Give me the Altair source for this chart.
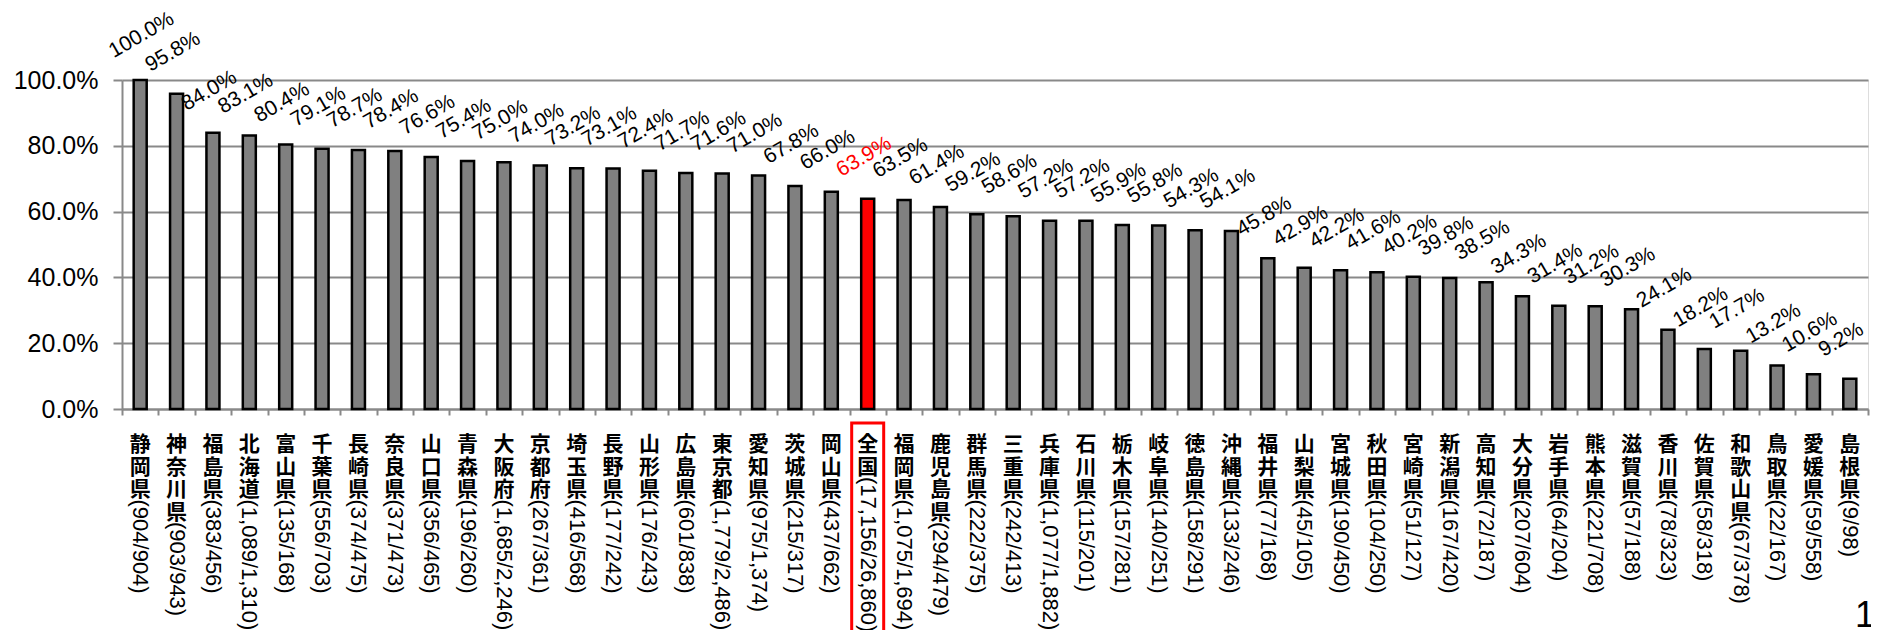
import altair as alt
import pandas as pd

names = ["静岡県", "神奈川県", "福島県", "北海道", "富山県", "千葉県", "長崎県", "奈良県",
         "山口県", "青森県", "大阪府", "京都府", "埼玉県", "長野県", "山形県", "広島県",
         "東京都", "愛知県", "茨城県", "岡山県", "全国", "福岡県", "鹿児島県", "群馬県",
         "三重県", "兵庫県", "石川県", "栃木県", "岐阜県", "徳島県", "沖縄県", "福井県",
         "山梨県", "宮城県", "秋田県", "宮崎県", "新潟県", "高知県", "大分県", "岩手県",
         "熊本県", "滋賀県", "香川県", "佐賀県", "和歌山県", "鳥取県", "愛媛県", "島根県"]
counts = ["904/904", "903/943", "383/456", "1,089/1,310", "135/168", "556/703", "374/475", "371/473",
          "356/465", "196/260", "1,685/2,246", "267/361", "416/568", "177/242", "176/243", "601/838",
          "1,779/2,486", "975/1,374", "215/317", "437/662", "17,156/26,860", "1,075/1,694", "294/479", "222/375",
          "242/413", "1,077/1,882", "115/201", "157/281", "140/251", "158/291", "133/246", "77/168",
          "45/105", "190/450", "104/250", "51/127", "167/420", "72/187", "207/604", "64/204",
          "221/708", "57/188", "78/323", "58/318", "67/378", "22/167", "59/558", "9/98"]
rates = [100.0, 95.8, 84.0, 83.1, 80.4, 79.1, 78.7, 78.4,
         76.6, 75.4, 75.0, 74.0, 73.2, 73.1, 72.4, 71.7,
         71.6, 71.0, 67.8, 66.0, 63.9, 63.5, 61.4, 59.2,
         58.6, 57.2, 57.2, 55.9, 55.8, 54.3, 54.1, 45.8,
         42.9, 42.2, 41.6, 40.2, 39.8, 38.5, 34.3, 31.4,
         31.2, 30.3, 24.1, 18.2, 17.7, 13.2, 10.6, 9.2]
highlight = "全国"
page_number = ["1"]

df = pd.DataFrame({
    "name": names,
    "count": ["(" + c + ")" for c in counts],
    "rate": [r / 100 for r in rates],
    "vert": ["\n".join(list(n)) for n in names],
    "n": [len(n) for n in names],
    "is_hl": [n == highlight for n in names],
})

W = 1746
H = 329
GRAY = "#898989"
RED = "#ff0000"
LH = 22.5

x_enc = alt.X("name:N", sort=names,
              scale=alt.Scale(paddingInner=0, paddingOuter=0),
              axis=alt.Axis(title=None, labels=False, tickBand="extent", ticks=True,
                            tickColor=GRAY, tickSize=6, tickWidth=2,
                            domainColor=GRAY, domainWidth=2, grid=False))

base = alt.Chart(df)

bars = base.mark_bar(size=13, stroke="black", strokeWidth=2.5).encode(
    x=x_enc,
    y=alt.Y("rate:Q", scale=alt.Scale(domain=[0, 1], nice=False),
            axis=alt.Axis(title=None, values=[0, 0.2, 0.4, 0.6, 0.8, 1.0], format=".1%",
                          labelFontSize=25, labelFont="Liberation Sans", labelColor="black",
                          labelPadding=15, tickColor=GRAY, tickSize=9, tickWidth=2,
                          domainColor=GRAY, domainWidth=2, grid=True,
                          gridColor=GRAY, gridWidth=2)),
    fill=alt.condition(alt.datum.is_hl, alt.value(RED), alt.value("#808080")),
)

vals = base.mark_text(angle=330, align="left", baseline="alphabetic", dx=-12, dy=-32,
                      fontSize=21, font="Liberation Sans").encode(
    x=alt.X("name:N", sort=names),
    y=alt.Y("rate:Q"),
    text=alt.Text("rate:Q", format=".1%"),
    color=alt.condition(alt.datum.is_hl, alt.value(RED), alt.value("black")),
)

kanji = base.mark_text(baseline="top", align="center", lineBreak="\n", lineHeight=LH,
                       fontSize=21, font="Noto Sans CJK JP", fontWeight="bold",
                       color="black").encode(
    x=alt.X("name:N", sort=names),
    y=alt.value(354),
    text="vert:N",
)

num_layers = []
for k in (2, 3, 4):
    num_layers.append(
        base.transform_filter(alt.datum.n == k).mark_text(
            angle=90, align="left", baseline="middle", fontSize=22,
            font="Liberation Sans", color="black").encode(
            x=alt.X("name:N", sort=names),
            y=alt.value(355 + k * LH - 3),
            text="count:N",
        )
    )

box = base.transform_filter(alt.datum.is_hl).mark_bar(
    size=32, filled=False, stroke=RED, strokeWidth=3).encode(
    x=alt.X("name:N", sort=names),
    y=alt.value(343),
    y2=alt.value(600),
)

page = alt.Chart(pd.DataFrame({"p": page_number})).mark_text(
    fontSize=36, font="Liberation Sans", align="center", baseline="alphabetic",
    color="black").encode(
    x=alt.value(1743), y=alt.value(547), text="p:N")

chart = alt.layer(bars, vals, kanji, *num_layers, box, page).properties(
    width=W, height=H,
    padding={"left": 114, "top": 72, "right": 3, "bottom": 222},
    autosize=alt.AutoSizeParams(type="none"),
).configure_view(stroke=None).configure(background="white")

chart.save("out.html", embed_options={"renderer": "svg", "actions": False})
